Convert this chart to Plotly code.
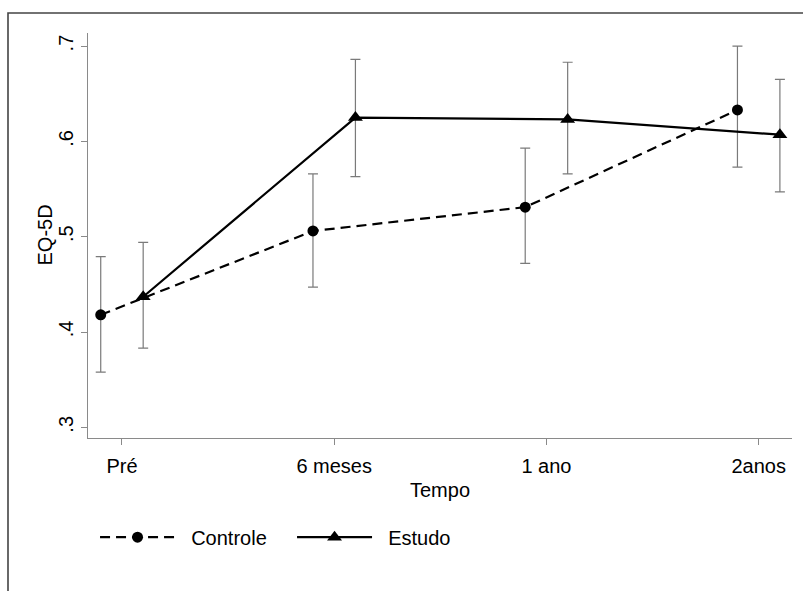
import plotly.graph_objects as go

# Mean EQ-5D score with 95% CI at each follow-up time
tempo = ["Pré", "6 meses", "1 ano", "2anos"]

controle_media = [0.418, 0.506, 0.531, 0.633]
controle_sup = [0.479, 0.566, 0.593, 0.700]
controle_inf = [0.358, 0.447, 0.472, 0.573]

estudo_media = [0.437, 0.625, 0.623, 0.607]
estudo_sup = [0.494, 0.686, 0.683, 0.665]
estudo_inf = [0.383, 0.563, 0.566, 0.547]

y_ticks = [0.3, 0.4, 0.5, 0.6, 0.7]
y_tick_labels = [".3", ".4", ".5", ".6", ".7"]

# horizontal dodge so the two groups' error bars don't overlap
dodge = 0.1
pos = list(range(len(tempo)))
pad = "\u00a0\u00a0"


def err(media, sup, inf):
    return dict(
        type="data",
        symmetric=False,
        array=[s - m for s, m in zip(sup, media)],
        arrayminus=[m - i for m, i in zip(media, inf)],
        color="#7a7a7a",
        thickness=1.2,
        width=5,
    )


fig = go.Figure()
fig.add_trace(go.Scatter(
    x=[p - dodge for p in pos], y=controle_media,
    mode="lines+markers", name=pad + "Controle",
    line=dict(color="black", width=2.2, dash="10px,6px"),
    marker=dict(symbol="circle", size=11, color="black"),
    error_y=err(controle_media, controle_sup, controle_inf),
))
fig.add_trace(go.Scatter(
    x=[p + dodge for p in pos], y=estudo_media,
    mode="lines+markers", name=pad + "Estudo",
    line=dict(color="black", width=2.2),
    marker=dict(symbol="triangle-up", size=13, color="black"),
    error_y=err(estudo_media, estudo_sup, estudo_inf),
))

axis_font = dict(family="Liberation Sans, Arial, sans-serif", size=20, color="black")

fig.update_layout(
    width=803, height=591,
    margin=dict(l=88, r=11, t=33, b=153),
    paper_bgcolor="white", plot_bgcolor="white",
    font=axis_font,
    showlegend=True,
    legend=dict(
        orientation="h", x=0.01, y=-0.245, xanchor="left", yanchor="middle",
        itemwidth=75, entrywidth=107, font=axis_font, bgcolor="rgba(0,0,0,0)",
    ),
    xaxis=dict(
        range=[-0.16, 3.157], tickmode="array", tickvals=pos, ticktext=tempo,
        showgrid=False, zeroline=False, showline=True, linecolor="#8a8a8a",
        linewidth=1.2, ticks="outside", ticklen=6, tickcolor="#8a8a8a",
        ticklabelstandoff=4,
        title=dict(text="Tempo", font=axis_font, standoff=6),
        tickfont=axis_font,
    ),
    yaxis=dict(
        range=[0.2888, 0.7137], tickmode="array", tickvals=y_ticks,
        ticktext=y_tick_labels, tickangle=-90,
        showgrid=False, zeroline=False, showline=True, linecolor="#8a8a8a",
        linewidth=1.2, ticks="outside", ticklen=6, tickcolor="#8a8a8a",
        tickfont=axis_font,
    ),
    annotations=[dict(
        text="EQ-5D", textangle=-90, xref="paper", yref="paper",
        x=(44 - 88) / 704, y=0.5, xanchor="center", yanchor="middle",
        showarrow=False, font=axis_font,
    )],
    shapes=[dict(
        type="rect", xref="paper", yref="paper",
        x0=(8 - 88) / 704, x1=(815 - 88) / 704,
        y0=(438 - 610) / 405, y1=1 + (33 - 13) / 405,
        line=dict(color="#444444", width=1.6), fillcolor="rgba(0,0,0,0)",
        layer="below",
    )],
)

fig.write_html("out.html")
